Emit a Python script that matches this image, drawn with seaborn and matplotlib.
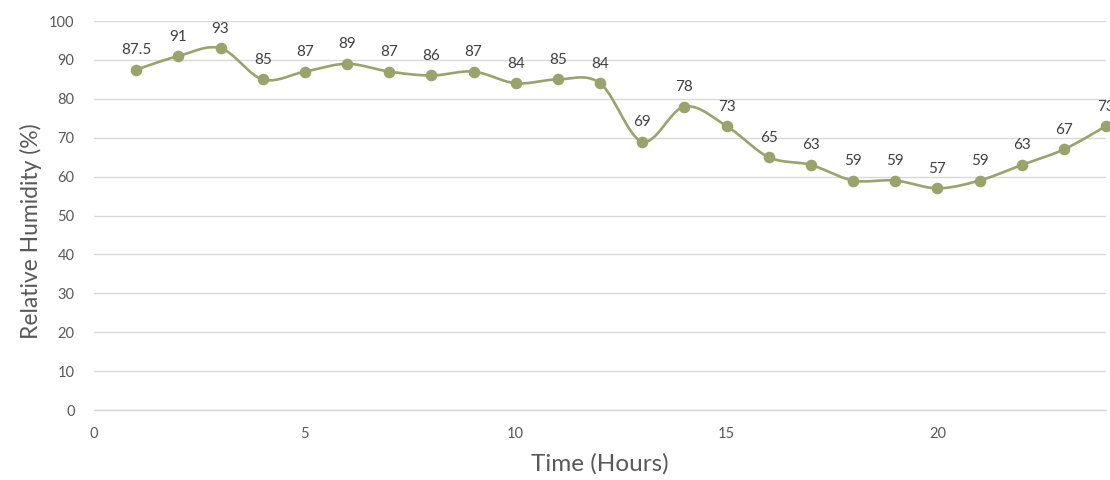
import numpy as np
import pandas as pd
import matplotlib
matplotlib.use("Agg")
import matplotlib.pyplot as plt
import seaborn as sns

hours = list(range(1, 25))
humidity = [87.5, 91, 93, 85, 87, 89, 87, 86, 87, 84, 85, 84,
            69, 78, 73, 65, 63, 59, 59, 57, 59, 63, 67, 73]
x_ticks = [0, 5, 10, 15, 20]
y_ticks = list(range(0, 101, 10))

LINE = "#9BA36C"
GRID = "#D9D9D9"
TICK = "#595959"
LABEL = "#404040"


def smooth_curve(xs, ys, steps=30):
    """Cubic Bezier path through the points with Catmull-Rom tangents."""
    p = np.column_stack([xs, ys]).astype(float)
    n = len(p)
    out = [p[0]]
    t = np.linspace(0, 1, steps + 1)[1:, None]
    for i in range(n - 1):
        p0 = p[i - 1] if i > 0 else p[i]
        p3 = p[i + 2] if i + 2 < n else p[i + 1]
        c1 = p[i] + (p[i + 1] - p0) / 6.0
        c2 = p[i + 1] - (p3 - p[i]) / 6.0
        seg = ((1 - t) ** 3) * p[i] + 3 * ((1 - t) ** 2) * t * c1 \
            + 3 * (1 - t) * t ** 2 * c2 + t ** 3 * p[i + 1]
        out.extend(seg)
    out = np.array(out)
    return out[:, 0], out[:, 1]


sns.set_theme(style="white")
plt.rcParams["font.family"] = ["Lato", "DejaVu Sans"]

fig = plt.figure(figsize=(11.1, 4.8), dpi=100)
ax = fig.add_axes([0.0847, 0.1458, 0.9118, 0.8104])

sx, sy = smooth_curve(hours, humidity)
curve = pd.DataFrame({"hour": sx, "rh": sy})
points = pd.DataFrame({"hour": hours, "rh": humidity})

sns.lineplot(data=curve, x="hour", y="rh", sort=False, estimator=None,
             color=LINE, linewidth=1.9, ax=ax, zorder=3)
sns.scatterplot(data=points, x="hour", y="rh", color=LINE, s=70,
                edgecolor=LINE, linewidth=0, ax=ax, zorder=4, clip_on=False)

for h, v in zip(hours, humidity):
    ax.annotate(f"{v:g}", (h, v), xytext=(0, 9), textcoords="offset points",
                ha="center", va="bottom", fontsize=11, color=LABEL,
                annotation_clip=False)

ax.set_xlim(0, 24)
ax.set_ylim(0, 100)
ax.set_xticks(x_ticks)
ax.set_yticks(y_ticks)
ax.grid(axis="y", color=GRID, linewidth=1)
ax.grid(axis="x", visible=False)
for side in ["left", "right", "top"]:
    ax.spines[side].set_visible(False)
ax.spines["bottom"].set_color(GRID)
ax.spines["bottom"].set_linewidth(1)
ax.tick_params(axis="both", length=0, labelsize=10.5, labelcolor=TICK)
ax.tick_params(axis="y", pad=14)
ax.tick_params(axis="x", pad=12)
ax.set_xlabel("Time (Hours)", fontsize=17.5, color=TICK, labelpad=9)
ax.set_ylabel("Relative Humidity (%)", fontsize=16.5, color=TICK)
ax.yaxis.set_label_coords(-0.051, 0.46)

fig.savefig("out.png", dpi=100)
